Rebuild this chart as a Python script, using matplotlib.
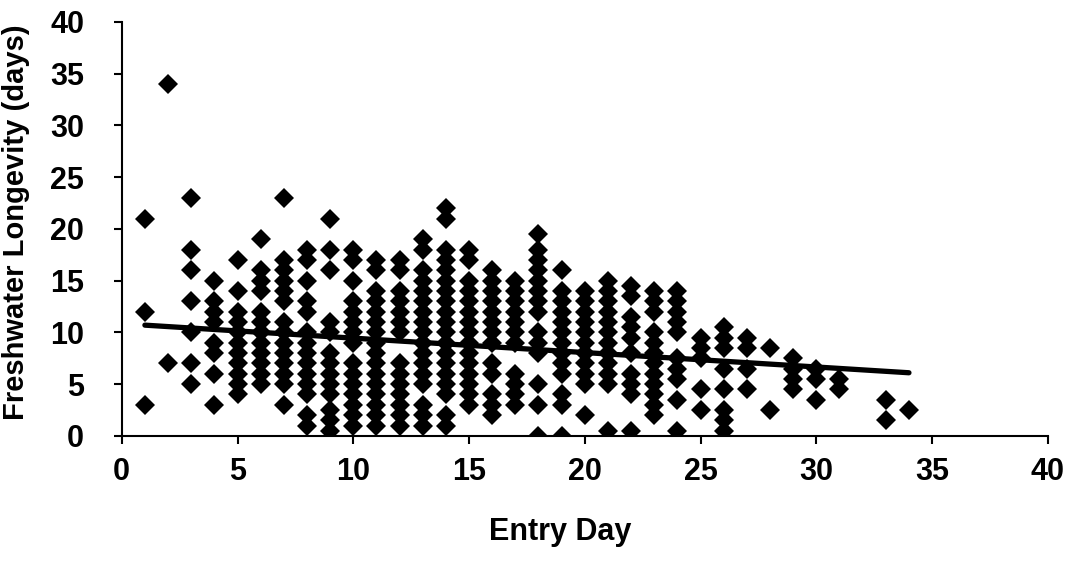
import matplotlib
matplotlib.use("Agg")
import matplotlib.pyplot as plt

# entry day -> freshwater longevity values (days), one list per day
longevity_by_day = {
    1: [21, 12, 3],
    2: [34, 7],
    3: [23, 18, 16, 13, 10, 7, 5],
    4: [15, 13, 12, 11, 9, 8, 6, 3],
    5: [17, 14, 12, 11, 10, 9, 8, 7, 6, 5, 4],
    6: [19, 16, 15, 14, 12, 11, 10, 9, 8, 7, 6, 5],
    7: [23, 17, 16, 15, 14, 13, 11, 10, 9, 8, 7, 6, 5, 3],
    8: [18, 17, 15, 13, 12, 10, 9, 8, 7, 6, 5, 4, 2, 1],
    9: [21, 18, 16, 11, 10, 8, 7, 6, 5, 4, 2.5, 1.5, 0.5],
    10: [18, 17, 15, 13, 12, 11, 10, 9, 7, 6, 5, 4, 3, 2, 1],
    11: [17, 16, 14, 13, 12, 11, 10, 9, 8, 7, 6, 5, 4, 3, 2, 1],
    12: [17, 16, 14, 13, 12, 11, 10, 7, 6, 5, 4, 3, 2, 1],
    13: [19, 18, 16, 15, 14, 13, 12, 11, 10, 9, 8, 7, 6, 5, 3, 2, 1],
    14: [22, 21, 18, 17, 16, 15, 14, 13, 12, 11, 10, 9, 8, 7, 6, 5, 4, 2, 1],
    15: [18, 17, 15, 14, 13, 12, 11, 10, 9, 8, 7, 6, 5, 4, 3],
    16: [16, 15, 14, 13, 12, 11, 10, 9, 7, 6, 4, 3, 2],
    17: [15, 14, 13, 12, 11, 10, 9, 6, 5, 4, 3],
    18: [19.5, 18, 17, 16, 15, 14, 13, 12, 10, 9, 8, 5, 3, 0],
    19: [16, 14, 13, 12, 11, 10, 9, 8, 7, 6, 4, 3, 0],
    20: [14, 13, 12, 11, 10, 9, 8, 7, 6, 5, 2],
    21: [15, 14, 13, 12, 11, 10, 9, 8, 7, 6, 5, 0.5],
    22: [14.5, 13.5, 11.5, 10.5, 9.5, 8, 6, 5, 4, 0.5],
    23: [14, 13, 12, 10, 9, 8, 7, 6, 5, 4, 3, 2],
    24: [14, 13, 12, 11, 10, 7.5, 6.5, 5.5, 3.5, 0.5],
    25: [9.5, 8.5, 7.5, 4.5, 2.5],
    26: [10.5, 9.5, 8.5, 6.5, 4.5, 2.5, 1.5, 0.5],
    27: [9.5, 8.5, 6.5, 4.5],
    28: [8.5, 2.5],
    29: [7.5, 6.5, 5.5, 4.5],
    30: [6.5, 5.5, 3.5],
    31: [5.5, 4.5],
    33: [3.5, 1.5],
    34: [2.5],
}

# fitted trend line as drawn in the original (end points)
trend_x = [1, 34]
trend_y = [10.7, 6.1]

entry_day = []
longevity = []
for day, values in longevity_by_day.items():
    for v in values:
        entry_day.append(day)
        longevity.append(v)

plt.rcParams["font.family"] = ["Liberation Sans", "DejaVu Sans"]
plt.rcParams["font.weight"] = "bold"

fig = plt.figure(figsize=(10.87, 5.61), dpi=100)
ax = fig.add_axes([0.112, 0.223, 0.852, 0.738])

ax.plot(entry_day, longevity, linestyle="none", marker="D", markersize=10,
        color="black", markeredgewidth=0)
ax.plot(trend_x, trend_y, color="black", linewidth=3.8, solid_capstyle="round")

ax.set_xlim(0, 40)
ax.set_ylim(0, 40)
ax.set_xticks(range(0, 41, 5))
ax.set_yticks(range(0, 41, 5))

for side in ["top", "right"]:
    ax.spines[side].set_visible(False)
for side in ["left", "bottom"]:
    ax.spines[side].set_linewidth(1.5)

ax.tick_params(axis="both", direction="out", length=6, width=1.5, labelsize=22)
ax.tick_params(axis="y", pad=21)
ax.tick_params(axis="x", pad=9)

ax.set_xlabel("Entry Day", fontsize=22, fontweight="bold")
ax.set_ylabel("Freshwater Longevity (days)", fontsize=21, fontweight="bold")
ax.xaxis.set_label_coords(0.473, -0.195)
ax.yaxis.set_label_coords(-0.099, 0.515)

fig.savefig("out.png", dpi=100)
